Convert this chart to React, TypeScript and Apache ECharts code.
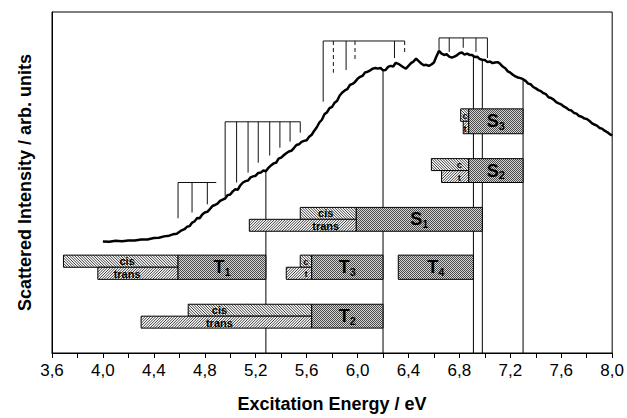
import React, { useEffect, useRef } from "react";
import * as echarts from "echarts";

// Scattered intensity curve (eV, arb. units on a 0..100 scale)
const curveE = [4.0, 4.05, 4.1, 4.15, 4.2, 4.25, 4.3, 4.35, 4.4, 4.44, 4.48, 4.52, 4.55, 4.58, 4.61, 4.64, 4.66, 4.68, 4.7, 4.72, 4.74, 4.76, 4.78, 4.8, 4.82, 4.84, 4.86, 4.88, 4.9, 4.92, 4.94, 4.96, 4.98, 5.0, 5.02, 5.04, 5.06, 5.08, 5.1, 5.12, 5.14, 5.16, 5.18, 5.2, 5.22, 5.24, 5.26, 5.28, 5.3, 5.32, 5.34, 5.36, 5.38, 5.4, 5.42, 5.44, 5.46, 5.48, 5.5, 5.52, 5.54, 5.56, 5.58, 5.6, 5.62, 5.64, 5.66, 5.68, 5.7, 5.72, 5.74, 5.76, 5.78, 5.8, 5.82, 5.84, 5.86, 5.88, 5.9, 5.92, 5.94, 5.96, 5.98, 6.0, 6.02, 6.04, 6.06, 6.08, 6.1, 6.12, 6.14, 6.16, 6.18, 6.2, 6.22, 6.24, 6.26, 6.28, 6.3, 6.32, 6.34, 6.36, 6.38, 6.4, 6.42, 6.44, 6.46, 6.48, 6.5, 6.52, 6.54, 6.56, 6.58, 6.6, 6.62, 6.64, 6.66, 6.68, 6.7, 6.72, 6.74, 6.76, 6.78, 6.8, 6.82, 6.84, 6.86, 6.88, 6.9, 6.92, 6.94, 6.96, 6.98, 7.0, 7.02, 7.04, 7.06, 7.08, 7.1, 7.12, 7.14, 7.16, 7.18, 7.2, 7.22, 7.24, 7.26, 7.28, 7.3, 7.32, 7.34, 7.36, 7.38, 7.4, 7.42, 7.44, 7.46, 7.48, 7.5, 7.52, 7.54, 7.56, 7.58, 7.6, 7.62, 7.64, 7.66, 7.68, 7.7, 7.72, 7.74, 7.76, 7.78, 7.8, 7.82, 7.84, 7.86, 7.88, 7.9, 7.92, 7.94, 7.96, 7.98, 8.0];
const curveI = [32.7, 32.6, 32.9, 32.8, 33.0, 33.0, 33.3, 33.3, 33.7, 33.8, 34.2, 34.4, 34.8, 35.0, 35.8, 36.3, 37.0, 37.2, 38.2, 38.6, 39.6, 39.5, 40.6, 41.2, 41.4, 42.2, 43.1, 43.4, 43.8, 44.6, 45.0, 45.3, 46.3, 46.5, 47.4, 48.0, 47.9, 49.2, 50.0, 50.4, 50.6, 51.5, 51.8, 52.0, 52.8, 52.9, 53.5, 53.3, 54.3, 55.0, 55.6, 55.8, 57.0, 57.3, 58.0, 58.6, 59.1, 59.3, 60.1, 61.0, 61.2, 61.9, 62.2, 62.4, 63.4, 64.0, 65.2, 66.2, 67.6, 68.4, 70.0, 70.6, 71.8, 72.2, 73.4, 74.0, 75.5, 76.4, 77.0, 77.4, 78.6, 78.9, 79.5, 80.4, 81.0, 81.3, 82.3, 82.5, 82.9, 83.4, 83.6, 83.4, 83.6, 82.9, 83.0, 83.9, 84.2, 84.0, 85.1, 84.8, 84.3, 83.8, 83.4, 84.2, 85.0, 85.5, 86.3, 85.6, 84.9, 84.4, 84.5, 84.2, 84.6, 85.2, 87.0, 88.6, 87.8, 87.4, 87.6, 86.9, 86.6, 86.9, 87.3, 87.9, 88.1, 87.5, 87.8, 87.4, 87.4, 86.8, 86.9, 86.2, 86.0, 85.9, 85.3, 85.5, 85.0, 85.2, 85.3, 84.8, 84.0, 83.5, 82.6, 82.2, 81.6, 81.1, 80.8, 80.6, 80.3, 79.8, 79.0, 78.8, 78.0, 77.6, 77.1, 76.8, 76.2, 75.9, 75.0, 74.8, 74.3, 73.6, 73.2, 72.9, 72.3, 71.9, 71.3, 71.1, 70.4, 70.2, 69.5, 69.3, 68.8, 68.6, 68.1, 67.4, 67.0, 66.7, 66.0, 65.8, 65.2, 64.8, 64.2, 63.8];

// Vertical level lines (eV) and the height where they meet the curve
const levelE = [5.28, 6.2, 6.91, 6.98, 7.3];
const levelTop = [53.3, 82.9, 87.3, 86.0, 80.3];

// Vibrational progressions ("combs")
const combTop = [50.0, 67.8, 91.5, 92.4];
const combStart = [4.59, 4.96, 5.73, 6.64];
const combEnd = [4.89, 5.55, 6.37, 7.02];
// [eV, lower end, dashed?]
const combTeeth = [
  [[4.59, 39.5, 0], [4.7, 41.2, 0], [4.82, 43.6, 0]],
  [[4.96, 45.9, 0], [5.05, 50.0, 0], [5.14, 52.9, 0], [5.22, 55.8, 0], [5.31, 57.9, 0], [5.39, 60.2, 0], [5.47, 62.0, 0], [5.55, 64.6, 0]],
  [[5.73, 73.7, 0], [5.81, 82.2, 1], [5.91, 83.0, 0], [5.98, 85.4, 1], [6.29, 86.5, 0], [6.37, 87.4, 1]],
  [[6.64, 88.9, 0], [6.72, 88.3, 0], [6.83, 89.5, 0], [6.93, 88.3, 0], [7.02, 86.5, 0]],
];

// Excited states
const stateMain = ["S", "S", "S", "T", "T", "T", "T"];
const stateSub = ["3", "2", "1", "1", "3", "4", "2"];
const cisStart = [6.81, 6.58, 5.55, 3.69, 5.55, null, 4.67];
const transStart = [6.83, 6.66, 5.15, 3.96, 5.44, null, 4.3];
const denseStart = [6.873, 6.873, 5.99, 4.59, 5.64, 6.32, 5.64];
const stateEnd = [7.3, 7.3, 6.98, 5.28, 6.2, 6.91, 6.2];
const rowTop = [71.6, 57.0, 42.7, 28.7, 28.7, 28.7, 14.3];
const rowBottom = [64.3, 50.0, 35.7, 21.6, 21.6, 21.6, 7.3];
const shortLabels = [true, true, false, false, true, false, false];
const subLabelE = [6.845, 6.8, 5.75, 4.19, 5.595, null, 4.915];

const xTickLabels = ["3,6", "4,0", "4,4", "4,8", "5,2", "5,6", "6,0", "6,4", "6,8", "7,2", "7,6", "8,0"];

const FONT = "'Liberation Sans', Arial, Helvetica, sans-serif";

function makeStipple(): any {
  try {
    const c = document.createElement("canvas");
    c.width = 2;
    c.height = 2;
    const ctx = c.getContext("2d")!;
    ctx.fillStyle = "#d4d4d4";
    ctx.fillRect(0, 0, 2, 2);
    ctx.fillStyle = "#4a4a4a";
    ctx.fillRect(0, 0, 1, 1);
    ctx.fillRect(1, 1, 1, 1);
    return { image: c, repeat: "repeat" };
  } catch (e) {
    return "#9a9a9a";
  }
}

function hatch(x0: number, y0: number, x1: number, y1: number, dir: number, sp: number) {
  const out: any[] = [];
  const st = { stroke: "#222", lineWidth: 0.9 };
  if (dir > 0) {
    const kStart = Math.ceil((x0 + y0) / sp) * sp;
    for (let k = kStart; k <= x1 + y1; k += sp) {
      const xs = Math.max(x0, k - y1);
      const xe = Math.min(x1, k - y0);
      if (xe > xs) out.push({ type: "line", silent: true, shape: { x1: xs, y1: k - xs, x2: xe, y2: k - xe }, style: st });
    }
  } else {
    const kStart = Math.ceil((x0 - y1) / sp) * sp;
    for (let k = kStart; k <= x1 - y0; k += sp) {
      const xs = Math.max(x0, y0 + k);
      const xe = Math.min(x1, y1 + k);
      if (xe > xs) out.push({ type: "line", silent: true, shape: { x1: xs, y1: xs - k, x2: xe, y2: xe - k }, style: st });
    }
  }
  return out;
}

function hatchedBox(x0: number, y0: number, x1: number, y1: number, dir: number) {
  return [
    { type: "rect", silent: true, shape: { x: x0, y: y0, width: x1 - x0, height: y1 - y0 }, style: { fill: "#fff" } },
    ...hatch(x0, y0, x1, y1, dir, 2.7),
    { type: "rect", silent: true, shape: { x: x0, y: y0, width: x1 - x0, height: y1 - y0 }, style: { fill: "none", stroke: "#000", lineWidth: 1 } },
  ];
}

export default function App() {
  const ref = useRef<HTMLDivElement>(null);
  useEffect(() => {
    const chart = echarts.init(ref.current!, null, { renderer: "svg" });
    const stipple = makeStipple();
    const option: any = {
      animation: false,
      backgroundColor: "#fff",
      grid: { left: 52, right: 13, top: 12, bottom: 64, show: true, borderColor: "#000", borderWidth: 1, backgroundColor: "transparent" },
      xAxis: {
        type: "value",
        min: 3.6,
        max: 8.0,
        interval: 0.2,
        axisLine: { show: true, lineStyle: { color: "#000", width: 1 } },
        axisTick: { show: true, length: 5, lineStyle: { color: "#000" } },
        splitLine: { show: false },
        axisLabel: {
          color: "#000",
          fontSize: 17,
          fontFamily: FONT,
          margin: 9,
          formatter: (v: number, idx: number) => (idx % 2 === 0 ? xTickLabels[idx / 2] ?? "" : ""),
        },
        name: "Excitation Energy / eV",
        nameLocation: "middle",
        nameGap: 42,
        nameTextStyle: { color: "#000", fontSize: 18, fontWeight: "bold", fontFamily: FONT },
      },
      yAxis: {
        type: "value",
        min: 0,
        max: 100,
        axisLine: { show: true, lineStyle: { color: "#000" } },
        axisTick: { show: false },
        axisLabel: { show: false },
        splitLine: { show: false },
        name: "Scattered Intensity / arb. units",
        nameLocation: "middle",
        nameGap: 18,
        nameTextStyle: { color: "#000", fontSize: 18, fontWeight: "bold", fontFamily: FONT },
      },
      series: [
        {
          type: "custom",
          name: "levels",
          z: 1,
          data: levelE.map((e, i) => [e, levelTop[i]]),
          renderItem: (_p: any, api: any) => {
            const a = api.coord([api.value(0), 0]);
            const b = api.coord([api.value(0), api.value(1)]);
            return { type: "line", shape: { x1: a[0], y1: a[1], x2: b[0], y2: b[1] }, style: { stroke: "#000", lineWidth: 1 } };
          },
        },
        {
          type: "custom",
          name: "combs",
          z: 2,
          data: combTop.map((t, i) => [combStart[i], t, i]),
          renderItem: (_p: any, api: any) => {
            const i = api.value(2) as number;
            const top = combTop[i];
            const l = api.coord([combStart[i], top]);
            const r = api.coord([combEnd[i], top]);
            const children: any[] = [
              { type: "line", shape: { x1: l[0], y1: l[1], x2: r[0], y2: r[1] }, style: { stroke: "#111", lineWidth: 1 } },
            ];
            combTeeth[i].forEach((t) => {
              const a = api.coord([t[0], top]);
              const b = api.coord([t[0], t[1]]);
              children.push({
                type: "line",
                shape: { x1: a[0], y1: a[1], x2: b[0], y2: b[1] },
                style: { stroke: "#111", lineWidth: 1, lineDash: t[2] ? [4, 3] : null },
              });
            });
            return { type: "group", children };
          },
        },
        {
          type: "line",
          name: "intensity",
          z: 3,
          data: curveE.map((e, i) => [e, curveI[i]]),
          showSymbol: false,
          symbol: "none",
          lineStyle: { color: "#000", width: 2.5 },
        },
        {
          type: "custom",
          name: "states",
          z: 4,
          data: stateEnd.map((e, i) => [e, rowTop[i], i]),
          renderItem: (_p: any, api: any) => {
            const i = api.value(2) as number;
            const top = rowTop[i];
            const bot = rowBottom[i];
            const mid = (top + bot) / 2;
            const yT = api.coord([4, top])[1];
            const yM = api.coord([4, mid])[1];
            const yB = api.coord([4, bot])[1];
            const xD = api.coord([denseStart[i], 0])[0];
            const xE = api.coord([stateEnd[i], 0])[0];
            const children: any[] = [];
            const cs = cisStart[i];
            const ts = transStart[i];
            if (cs != null) children.push(...hatchedBox(api.coord([cs, 0])[0], yT, xD, yM, -1));
            if (ts != null) children.push(...hatchedBox(api.coord([ts, 0])[0], yM, xD, yB, 1));
            children.push({ type: "rect", shape: { x: xD, y: yT, width: xE - xD, height: yB - yT }, style: { fill: stipple, stroke: "#000", lineWidth: 1 } });
            const sl = subLabelE[i];
            if (sl != null) {
              const lx = api.coord([sl, 0])[0];
              const short = shortLabels[i];
              const fs = short ? 9.5 : 11;
              const tstyle = { align: "center", verticalAlign: "middle", fontSize: fs, fontWeight: "bold", fontFamily: FONT, lineHeight: fs, fill: "#000" };
              children.push({ type: "text", style: { ...tstyle, text: short ? "c" : "cis", x: lx, y: (yT + yM) / 2 } });
              children.push({ type: "text", style: { ...tstyle, text: short ? "t" : "trans", x: lx, y: (yM + yB) / 2 + 0.5 } });
            }
            children.push({
              type: "text",
              style: {
                text: `{a|${stateMain[i]}}{b|${stateSub[i]}}`,
                x: (xD + xE) / 2,
                y: (yT + yB) / 2,
                align: "center",
                verticalAlign: "middle",
                rich: {
                  a: { fontSize: 18, fontWeight: "bold", fontFamily: FONT, fill: "#000", color: "#000" },
                  b: { fontSize: 11, fontWeight: "bold", fontFamily: FONT, fill: "#000", color: "#000", padding: [9, 0, 0, 0] },
                },
              },
            });
            return { type: "group", children };
          },
        },
      ],
    };
    chart.setOption(option);
    return () => chart.dispose();
  }, []);
  return <div ref={ref} style={{ width: 627, height: 418, position: "absolute", left: 0, top: 0 }} />;
}
